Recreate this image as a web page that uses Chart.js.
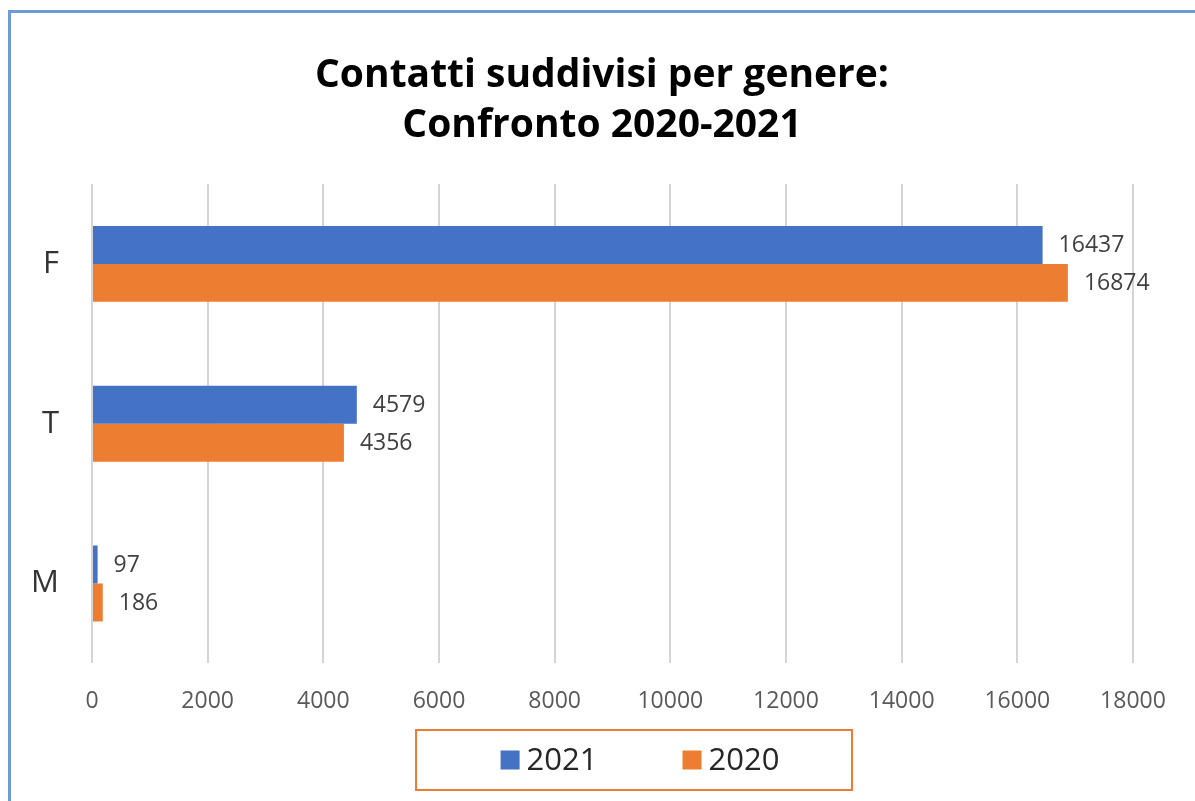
<!DOCTYPE html>
<html>
<head>
<meta charset="utf-8">
<title>Contatti suddivisi per genere</title>
<script src="https://cdn.jsdelivr.net/npm/chart.js@4/dist/chart.umd.min.js"></script>
<style>
  html, body { margin: 0; padding: 0; background: #ffffff; }
  #wrap { position: relative; width: 1195px; height: 801px; overflow: hidden; }
  #frame {
    position: absolute; left: 8px; top: 10px; width: 1200px; height: 820px;
    border-top: 3px solid #6d9bd6; border-left: 3px solid #6d9bd6;
    box-sizing: border-box;
  }
  #c { position: absolute; left: 0; top: 0; }
</style>
</head>
<body>
<div id="wrap">
  <div id="frame"></div>
  <canvas id="c" width="1195" height="801"></canvas>
</div>
<script>
// Categories and values
const categories = ['F', 'T', 'M'];
const values2021 = [16437, 4579, 97];
const values2020 = [16874, 4356, 186];
const seriesLabels = ['2021', '2020'];
const xTickValues = [0, 2000, 4000, 6000, 8000, 10000, 12000, 14000, 16000, 18000];
const titleLines = ['Contatti suddivisi per genere:', 'Confronto 2020-2021'];

const FONT = '"Open Sans", "Liberation Sans", sans-serif';
const BLUE = '#4472C4';
const ORANGE = '#ED7D31';

// Two-line bold heading, centred on the page
const heading = {
  id: 'heading',
  afterDraw(chart) {
    const ctx = chart.ctx;
    ctx.save();
    ctx.font = 'bold 39px ' + FONT;
    ctx.fillStyle = '#000000';
    ctx.textAlign = 'center';
    ctx.textBaseline = 'middle';
    titleLines.forEach((line, i) => ctx.fillText(line, 602, 76 + i * 50));
    ctx.restore();
  }
};

// Value labels to the right of each bar
const valueLabels = {
  id: 'valueLabels',
  afterDatasetsDraw(chart) {
    const ctx = chart.ctx;
    ctx.save();
    ctx.font = '23px ' + FONT;
    ctx.fillStyle = '#404040';
    ctx.textAlign = 'left';
    ctx.textBaseline = 'middle';
    chart.data.datasets.forEach((ds, i) => {
      chart.getDatasetMeta(i).data.forEach((bar, j) => {
        ctx.fillText(String(ds.data[j]), bar.x + 16, bar.y + 1);
      });
    });
    ctx.restore();
  }
};

// Legend inside an orange outlined box below the axis
const boxedLegend = {
  id: 'boxedLegend',
  afterDraw(chart) {
    const ctx = chart.ctx;
    const boxLeft = 416, boxTop = 730, boxW = 436, boxH = 60;
    ctx.save();
    ctx.strokeStyle = ORANGE;
    ctx.lineWidth = 2;
    ctx.strokeRect(boxLeft, boxTop, boxW, boxH);

    ctx.font = '31px ' + FONT;
    ctx.textBaseline = 'middle';
    ctx.textAlign = 'left';
    const sq = 19, gapText = 7, gapItems = 85;
    const items = chart.data.datasets.map(ds => ({
      label: ds.label, color: ds.backgroundColor,
      w: sq + gapText + ctx.measureText(ds.label).width
    }));
    const total = items.reduce((s, it) => s + it.w, 0) + gapItems * (items.length - 1);
    let x = 640 - total / 2;
    const cy = boxTop + boxH / 2;
    items.forEach(it => {
      ctx.fillStyle = it.color;
      ctx.fillRect(x, cy - sq / 2, sq, sq);
      ctx.fillStyle = '#262626';
      ctx.fillText(it.label, x + sq + gapText, cy + 1);
      x += it.w + gapItems;
    });
    ctx.restore();
  }
};

new Chart(document.getElementById('c'), {
  type: 'bar',
  data: {
    labels: categories,
    datasets: [
      { label: seriesLabels[0], data: values2021, backgroundColor: BLUE },
      { label: seriesLabels[1], data: values2020, backgroundColor: ORANGE }
    ]
  },
  options: {
    indexAxis: 'y',
    responsive: false,
    animation: false,
    layout: { padding: { left: 0, right: 62, top: 184, bottom: 62 } },
    datasets: { bar: { categoryPercentage: 0.475, barPercentage: 1.0 } },
    plugins: {
      legend: { display: false },
      tooltip: { enabled: false },
      title: { display: false }
    },
    scales: {
      x: {
        min: 0,
        max: 18000,
        afterBuildTicks(scale) { scale.ticks = xTickValues.map(v => ({ value: v })); },
        ticks: {
          callback: v => String(v),
          color: '#595959',
          font: { family: FONT, size: 23 },
          padding: 24,
          maxRotation: 0
        },
        grid: { color: '#d4d4d4', lineWidth: 2, drawTicks: false },
        border: { display: false }
      },
      y: {
        afterFit(scale) { scale.width = 92; },
        ticks: {
          color: '#333333',
          font: { family: FONT, size: 31 },
          padding: 25
        },
        grid: { display: false },
        border: { display: false }
      }
    }
  },
  plugins: [heading, valueLabels, boxedLegend]
});
</script>
</body>
</html>
